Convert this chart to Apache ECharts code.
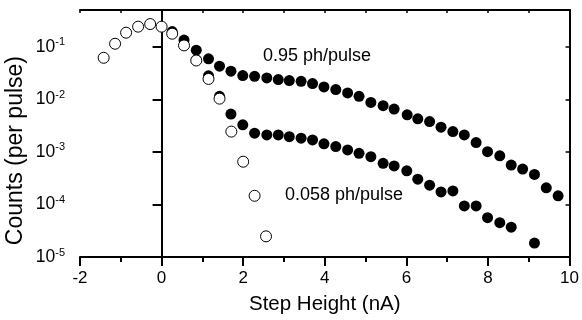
<!DOCTYPE html>
<html>
<head>
<meta charset="utf-8">
<script src="https://cdn.jsdelivr.net/npm/echarts@6/dist/echarts.min.js"></script>
<style>html,body{margin:0;padding:0;background:#fff}#c{width:582px;height:320px}</style>
</head>
<body>
<div id="c"></div>
<script>
// Open circles: pulse-height (noise) distribution
const openX = [-1.42, -1.14, -0.87, -0.575, -0.28, 0.0, 0.26, 0.55, 0.85, 1.15, 1.42, 1.71, 2.0, 2.28, 2.56];
const openY = [0.0616, 0.114, 0.185, 0.241, 0.27, 0.241, 0.177, 0.106, 0.0547, 0.0244, 0.0103, 0.00243, 0.00065, 0.000146, 0.0000247];

// Filled circles: 0.95 ph/pulse
const highX = [0.26, 0.55, 0.85, 1.15, 1.42, 1.70, 1.99, 2.28, 2.58, 2.86, 3.13, 3.42, 3.70, 3.98, 4.27, 4.56, 4.84, 5.13, 5.43, 5.70, 6.02, 6.28, 6.57, 6.85, 7.14, 7.42, 7.71, 7.99, 8.29, 8.57, 8.85, 9.14, 9.43, 9.72];
const highY = [0.194, 0.134, 0.086, 0.059, 0.0426, 0.0342, 0.0283, 0.0274, 0.0255, 0.0237, 0.0227, 0.022, 0.0199, 0.0172, 0.0153, 0.0132, 0.0114, 0.00873, 0.00755, 0.00652, 0.00508, 0.00426, 0.00378, 0.00295, 0.00243, 0.0021, 0.0015, 0.00101, 0.00084, 0.00056, 0.00047, 0.000373, 0.000207, 0.000146];

// Filled circles: 0.058 ph/pulse
const lowX = [0.85, 1.15, 1.42, 1.70, 1.99, 2.28, 2.58, 2.86, 3.13, 3.42, 3.70, 3.98, 4.27, 4.56, 4.84, 5.13, 5.43, 5.70, 6.01, 6.28, 6.57, 6.85, 7.14, 7.42, 7.71, 7.99, 8.29, 8.57, 9.14];
const lowY = [0.056, 0.028, 0.0114, 0.00524, 0.00327, 0.00227, 0.0021, 0.0021, 0.00195, 0.00182, 0.00169, 0.00142, 0.00126, 0.00109, 0.00094, 0.00081, 0.000605, 0.00054, 0.000437, 0.000303, 0.000233, 0.000173, 0.000181, 0.0000936, 0.0000936, 0.000056, 0.000045, 0.000037, 0.0000184];

const yTicks = [1e-5, 1e-4, 1e-3, 1e-2, 1e-1];
const xTickLabels = ['-2', '0', '2', '4', '6', '8', '10'];
const annotations = ['0.95 ph/pulse', '0.058 ph/pulse'];

const FONT = '"Liberation Sans", Arial, sans-serif';
const zip = (xs, ys) => xs.map((x, i) => [x, ys[i]]);

const chart = echarts.init(document.getElementById('c'));
chart.setOption({
  animation: false,
  backgroundColor: '#fff',
  grid: { left: 80, right: 11, top: 10, bottom: 63 },
  xAxis: [
    {
      type: 'value', min: -2, max: 10, interval: 2,
      name: 'Step Height (nA)', nameLocation: 'middle', nameGap: 37,
      nameTextStyle: { fontFamily: FONT, fontSize: 20.5, color: '#000' },
      axisLine: { lineStyle: { color: '#000', width: 2 } },
      axisTick: { length: 9, lineStyle: { color: '#000', width: 2 } },
      minorTick: { show: true, splitNumber: 2, length: 5, lineStyle: { color: '#000', width: 2 } },
      splitLine: { show: false },
      axisLabel: { margin: 13, fontFamily: FONT, fontSize: 17, color: '#000',
        formatter: v => xTickLabels[Math.round((v + 2) / 2)] }
    },
    {
      type: 'value', position: 'top', min: -2, max: 10, interval: 1,
      axisLine: { show: true, onZero: false, lineStyle: { color: '#000', width: 2 } },
      axisTick: { inside: true, length: 3, lineStyle: { color: '#000', width: 1.5 } },
      axisLabel: { show: false }, splitLine: { show: false }
    }
  ],
  yAxis: [
    {
      type: 'log', logBase: 10, min: 1e-5, max: 0.5,
      axisLine: { lineStyle: { color: '#000', width: 2 } },
      axisTick: { length: 9, customValues: yTicks, lineStyle: { color: '#000', width: 2 } },
      splitLine: { show: false },
      axisLabel: {
        margin: 15, customValues: yTicks, color: '#000',
        formatter: v => '{b|10}{s|' + Math.round(Math.log10(v)) + '}',
        rich: {
          b: { fontFamily: FONT, fontSize: 17.5, lineHeight: 20, color: '#000' },
          s: { fontFamily: FONT, fontSize: 11, lineHeight: 10, verticalAlign: 'top', color: '#000' }
        }
      }
    },
    {
      type: 'log', logBase: 10, min: 1e-5, max: 0.5, position: 'right',
      axisLine: { show: true, onZero: false, lineStyle: { color: '#000', width: 2 } },
      axisTick: { inside: true, length: 4, customValues: yTicks, lineStyle: { color: '#000', width: 1.5 } },
      axisLabel: { show: false }, splitLine: { show: false }
    }
  ],
  graphic: [
    { type: 'text', left: 4, top: 56, rotation: Math.PI / 2,
      style: { text: 'Counts (per pulse)', fontFamily: FONT, fontSize: 23, fill: '#000' } },
    { type: 'text', left: 263, top: 47,
      style: { text: annotations[0], fontFamily: FONT, fontSize: 18, fill: '#000' } },
    { type: 'text', left: 285, top: 186,
      style: { text: annotations[1], fontFamily: FONT, fontSize: 18, fill: '#000' } }
  ],
  series: [
    { type: 'scatter', name: '0.95 ph/pulse', data: zip(highX, highY), symbol: 'circle', symbolSize: 11,
      itemStyle: { color: '#000', opacity: 1 }, z: 2 },
    { type: 'scatter', name: '0.058 ph/pulse', data: zip(lowX, lowY), symbol: 'circle', symbolSize: 11,
      itemStyle: { color: '#000', opacity: 1 }, z: 2 },
    { type: 'scatter', name: 'noise', data: zip(openX, openY), symbol: 'circle', symbolSize: 11,
      itemStyle: { color: '#fff', borderColor: '#000', borderWidth: 1, opacity: 1 }, z: 3 }
  ]
});
</script>
</body>
</html>
